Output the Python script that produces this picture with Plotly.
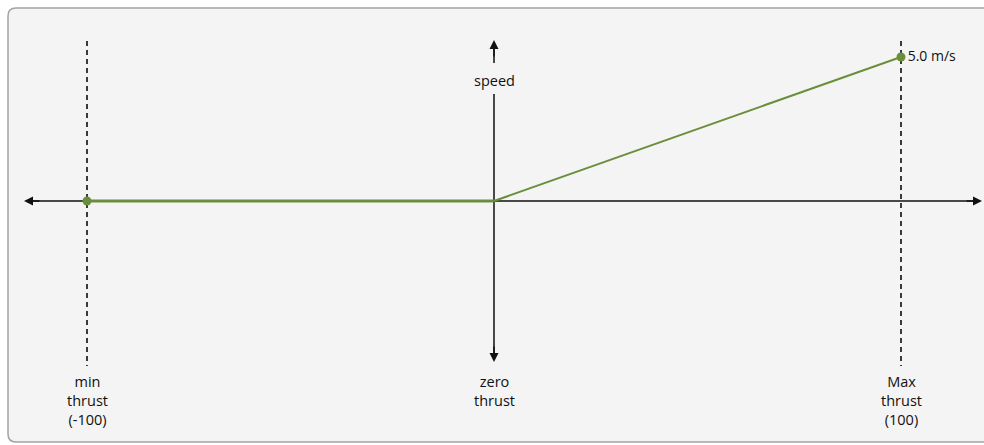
import plotly.graph_objects as go

# ---- data ----
thrust = [-100, 0, 100]
speed = [0.0, 0.0, 5.0]
marker_thrust = [-100, 100]
marker_speed = [0.0, 5.0]
marker_text = ["", "5.0 m/s"]
label_thrust = [-100, 0, 100]
label_text = ["min<br>thrust<br>(-100)", "zero<br>thrust", "Max<br>thrust<br>(100)"]
y_label = "speed"

W, H = 984, 445
GREEN = "#6b8e3c"
FONT = "'Open Sans', Lato, sans-serif"

# screen-pixel -> data helpers (decoration placement only)
X0PX, XSCALE = 87, (901 - 87) / 200.0
Y0PX, YSCALE = 201, (201 - 57) / 5.0
def px2x(p):
    return -100 + (p - X0PX) / XSCALE
def px2y(p):
    return (Y0PX - p) / YSCALE

fig = go.Figure()

fig.add_trace(go.Scatter(
    x=thrust[:2], y=speed[:2], mode="lines",
    line=dict(color=GREEN, width=3), hoverinfo="skip", showlegend=False))
fig.add_trace(go.Scatter(
    x=thrust[1:], y=speed[1:], mode="lines",
    line=dict(color=GREEN, width=2), hoverinfo="skip", showlegend=False))
fig.add_trace(go.Scatter(
    x=marker_thrust, y=marker_speed, mode="markers+text",
    marker=dict(color=GREEN, size=9),
    text=marker_text, textposition="middle right",
    textfont=dict(family=FONT, size=14, color="#111"),
    hoverinfo="skip", showlegend=False))

shapes = []
def pp(px, py):
    return f"{px / W:.5f},{1 - py / H:.5f}"
path = (f"M {pp(8, 16)} Q {pp(8, 8)} {pp(16, 8)} L {pp(1000, 8)} L {pp(1000, 442)} "
        f"L {pp(16, 442)} Q {pp(8, 442)} {pp(8, 434)} Z")
shapes.append(dict(type="path", xref="paper", yref="paper", path=path,
                   fillcolor="#f4f4f4", line=dict(color="#a3a3a3", width=1.5),
                   layer="below"))
for xv in (label_thrust[0], label_thrust[2]):
    shapes.append(dict(type="line", xref="x", yref="y", x0=xv, x1=xv,
                       y0=px2y(41), y1=px2y(366),
                       line=dict(color="#3a3a3a", width=2, dash="5px,4px"),
                       layer="below"))
shapes.append(dict(type="line", xref="x", yref="y", x0=px2x(30), x1=px2x(976),
                   y0=0, y1=0, line=dict(color="#111", width=1.5), layer="below"))
shapes.append(dict(type="line", xref="x", yref="y", x0=0, x1=0,
                   y0=px2y(94), y1=px2y(356), line=dict(color="#111", width=1.5),
                   layer="below"))
shapes.append(dict(type="line", xref="x", yref="y", x0=0, x1=0,
                   y0=px2y(48), y1=px2y(63), line=dict(color="#111", width=1.5),
                   layer="below"))

annotations = []
def arrowhead(xt, yt, xs, ys):
    annotations.append(dict(x=xt, y=yt, ax=xs, ay=ys, xref="x", yref="y",
                            axref="x", ayref="y", text="", showarrow=True,
                            arrowhead=2, arrowsize=1.2, arrowwidth=1.5,
                            arrowcolor="#111", standoff=0))
arrowhead(px2x(982), 0, px2x(965), 0)
arrowhead(px2x(24), 0, px2x(41), 0)
arrowhead(0, px2y(40), 0, px2y(58))
arrowhead(0, px2y(362), 0, px2y(345))

annotations.append(dict(x=0, y=px2y(80), xref="x", yref="y", text=y_label,
                        showarrow=False, font=dict(family=FONT, size=14.5, color="#111")))
for xv, t in zip(label_thrust, label_text):
    annotations.append(dict(x=xv, y=px2y(370), xref="x", yref="y", text=t,
                            showarrow=False, yanchor="top", align="center",
                            font=dict(family=FONT, size=14.5, color="#111")))

fig.update_layout(
    width=W, height=H,
    margin=dict(l=0, r=0, t=0, b=0),
    paper_bgcolor="white", plot_bgcolor="rgba(0,0,0,0)",
    xaxis=dict(range=[px2x(0), px2x(W)], visible=False, fixedrange=True),
    yaxis=dict(range=[px2y(H), px2y(0)], visible=False, fixedrange=True),
    shapes=shapes, annotations=annotations,
)

fig.write_html("out.html", config={"displayModeBar": False},
               post_script="document.body.style.margin='0';document.body.style.overflow='hidden';")
